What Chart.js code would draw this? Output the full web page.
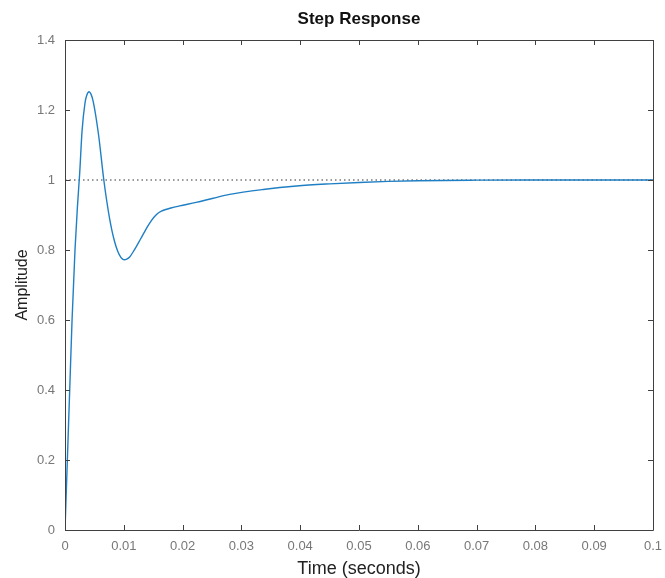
<!DOCTYPE html>
<html>
<head>
<meta charset="utf-8">
<title>Step Response</title>
<script src="https://cdn.jsdelivr.net/npm/chart.js@4.4.1/dist/chart.umd.min.js"></script>
<style>
  html, body { margin: 0; padding: 0; background: #fff; }
  #step-chart { display: block; }
</style>
</head>
<body>
<canvas id="step-chart" width="665" height="578"></canvas>
<script>
// step response samples, time in seconds
const timeValues = [
  0, 0.0004, 0.0008, 0.0012, 0.0017, 0.0021, 0.0025, 0.0029, 0.0034, 0.0037,
  0.0041, 0.0044, 0.0048, 0.0057, 0.0066, 0.0071, 0.0076, 0.008, 0.0085, 0.009,
  0.0095, 0.0098, 0.0101, 0.0105, 0.011, 0.0116, 0.0122, 0.0128, 0.0134, 0.014,
  0.0146, 0.0152, 0.0158, 0.0164, 0.017, 0.018, 0.0195, 0.0223, 0.0252, 0.028,
  0.0337, 0.0394, 0.045, 0.05, 0.055, 0.06, 0.07, 0.08, 0.09, 0.1
];
const amplitudeValues = [
  0, 0.2, 0.4, 0.6, 0.8, 0.92, 1.02, 1.14, 1.22, 1.242,
  1.252, 1.246, 1.224, 1.13, 1.0, 0.94, 0.888, 0.854, 0.82, 0.795,
  0.779, 0.774, 0.772, 0.774, 0.78, 0.795, 0.812, 0.83, 0.848, 0.866,
  0.882, 0.895, 0.905, 0.911, 0.915, 0.92, 0.926, 0.936, 0.948, 0.959,
  0.973, 0.983, 0.989, 0.993, 0.996, 0.998, 0.9995, 1.0, 1.0, 1.0
];
// steady-state level
const finalTime = [0, 0.1];
const finalValue = [1, 1];

const xTicks = [0, 0.01, 0.02, 0.03, 0.04, 0.05, 0.06, 0.07, 0.08, 0.09, 0.1];
const yTicks = [0, 0.2, 0.4, 0.6, 0.8, 1, 1.2, 1.4];

const AXIS_COLOR = '#404040';
const LABEL_COLOR = '#777777';
const TICK_LEN = 5;

// box around the axes with ticks pointing inwards on every side
const boxAxes = {
  id: 'boxAxes',
  afterDatasetsDraw(chart) {
    const {ctx, chartArea: a, scales: {x, y}} = chart;
    ctx.save();
    ctx.strokeStyle = AXIS_COLOR;
    ctx.lineWidth = 1;
    ctx.beginPath();
    ctx.rect(Math.round(a.left) + 0.5, Math.round(a.top) + 0.5,
             Math.round(a.right - a.left), Math.round(a.bottom - a.top));
    x.ticks.forEach(t => {
      const px = Math.round(x.getPixelForValue(t.value)) + 0.5;
      ctx.moveTo(px, a.bottom); ctx.lineTo(px, a.bottom - TICK_LEN);
      ctx.moveTo(px, a.top); ctx.lineTo(px, a.top + TICK_LEN);
    });
    y.ticks.forEach(t => {
      const py = Math.round(y.getPixelForValue(t.value)) + 0.5;
      ctx.moveTo(a.left, py); ctx.lineTo(a.left + TICK_LEN, py);
      ctx.moveTo(a.right, py); ctx.lineTo(a.right - TICK_LEN, py);
    });
    ctx.stroke();
    ctx.restore();
  }
};

const ctx = document.querySelector('#step-chart').getContext('2d');
const myChart = new Chart(ctx, {
  type: 'line',
  data: {
    datasets: [
      {
        label: 'Step',
        data: timeValues.map((t, i) => ({x: t, y: amplitudeValues[i]})),
        borderColor: '#1f7fc4',
        borderWidth: 1.4,
        cubicInterpolationMode: 'monotone',
        pointRadius: 0,
        order: 0
      },
      {
        label: 'Final value',
        data: finalTime.map((t, i) => ({x: t, y: finalValue[i]})),
        borderColor: '#333333',
        borderWidth: 1,
        borderDash: [1.5, 3],
        pointRadius: 0,
        order: 1
      }
    ]
  },
  options: {
    responsive: false,
    animation: false,
    events: [],
    layout: { padding: { top: 0, right: 12, bottom: 0, left: 0 } },
    plugins: {
      legend: { display: false },
      tooltip: { enabled: false },
      title: {
        display: true,
        text: 'Step Response',
        fullSize: false,
        color: '#111111',
        font: { family: 'Liberation Sans, Arial, sans-serif', size: 17, weight: 'bold' },
        padding: { top: 9, bottom: 10.6 }
      }
    },
    scales: {
      x: {
        type: 'linear',
        min: 0,
        max: 0.1,
        afterBuildTicks: scale => { scale.ticks = xTicks.map(v => ({value: v})); },
        afterFit: scale => {
          scale.height = 48;
          // the last label may hang into the right margin
          scale.paddingLeft = 0;
          scale.paddingRight = 0;
        },
        grid: { display: false, drawTicks: false },
        border: { display: false },
        ticks: {
          color: LABEL_COLOR,
          padding: 9,
          autoSkip: false,
          maxRotation: 0,
          font: { family: 'Liberation Sans, Arial, sans-serif', size: 13 },
          callback: v => String(v)
        },
        title: {
          display: true,
          text: 'Time (seconds)',
          color: '#222222',
          font: { family: 'Liberation Sans, Arial, sans-serif', size: 18 },
          padding: { top: 0, bottom: -2 }
        }
      },
      y: {
        type: 'linear',
        min: 0,
        max: 1.4,
        afterBuildTicks: scale => { scale.ticks = yTicks.map(v => ({value: v})); },
        afterFit: scale => { scale.width = 65; },
        grid: { display: false, drawTicks: false },
        border: { display: false },
        ticks: {
          color: LABEL_COLOR,
          padding: 10,
          font: { family: 'Liberation Sans, Arial, sans-serif', size: 13 },
          callback: v => String(v)
        },
        title: {
          display: true,
          text: 'Amplitude',
          color: '#222222',
          font: { family: 'Liberation Sans, Arial, sans-serif', size: 16 },
          padding: { top: 13, bottom: 0 }
        }
      }
    }
  },
  plugins: [boxAxes]
});
</script>
</body>
</html>
